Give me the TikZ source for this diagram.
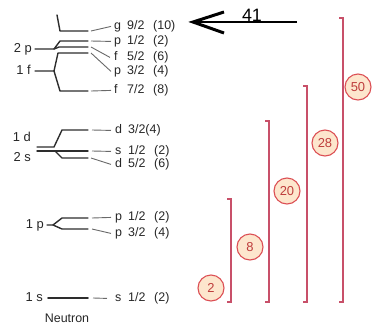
\documentclass[tikz,border=0pt]{standalone}
\usepackage{fontspec}
\setmainfont{Liberation Sans}
\definecolor{bracketred}{RGB}{200,80,105}
\definecolor{ringred}{RGB}{220,80,85}
\definecolor{ringfill}{RGB}{253,230,205}
\definecolor{numred}{RGB}{190,60,60}
\definecolor{levelgray}{RGB}{45,45,45}
\definecolor{tiegray}{RGB}{105,105,105}
% orbital label: letter, j value, occupancy in fixed columns
\newcommand{\orb}[3]{\makebox[13bp][l]{#1}\makebox[26bp][l]{#2}#3}
\begin{document}
\begin{tikzpicture}[x=1bp,y=-1bp,
  levelline/.style={draw=levelgray, line width=1.4bp, line join=round, line cap=round},
  tie/.style={draw=tiegray, line width=0.9bp},
  orblabel/.style={anchor=mid west, inner sep=0, text=black!85, font=\fontsize{12.5}{15}\selectfont},
  shell/.style={anchor=mid east, inner sep=0, text=black!85, font=\fontsize{13}{15}\selectfont},
  magic/.style={circle, draw=ringred, fill=ringfill, line width=1.1bp, minimum size=26bp,
    inner sep=0, text=numred, font=\fontsize{13}{15}\selectfont},
  closure/.style={draw=bracketred, line width=1.3bp}]
\useasboundingbox (0,0) rectangle (376,325);

% ---- shell labels on the left ----
\node[shell] (s2p) at (32,50) {2 p};
\node[shell] (s1f) at (31,72) {1 f};
\node[shell] (s1d) at (31,139) {1 d};
\node[shell] (s2s) at (31,159) {2 s};
\node[shell] (s1p) at (44,226) {1 p};
\node[shell] (s1s) at (43,299) {1 s};

% ---- spin-orbit split levels ----
\draw[levelline] (57,15) -- (60,31) -- (88,31);
\draw[levelline] (35,49) -- (54,49) -- (60,41) -- (88,41);
\draw[levelline] (54,49) -- (59,47) -- (88,47);
\draw[levelline] (35,71) -- (54,71) -- (58,53) -- (88,53);
\draw[levelline] (54,71) -- (60,91) -- (88,91);

\draw[levelline] (37,147) -- (54,147) -- (62,130) -- (88,130);
\draw[levelline] (37,151) -- (88,151);
\draw[levelline] (55,151) -- (62,158) -- (88,158);

\draw[levelline] (47,225) -- (53,225) -- (62,218) -- (88,218);
\draw[levelline] (53,225) -- (62,229) -- (88,229);

\draw[levelline, line width=1.8bp] (48,298) -- (88,298);

% ---- orbital labels ----
\node[orblabel] (g92) at (114,27) {\orb{g}{9/2}{(10)}};
\node[orblabel] (p12a) at (114,42) {\orb{p}{1/2}{(2)}};
\node[orblabel] (f52) at (114,58) {\orb{f}{5/2}{(6)}};
\node[orblabel] (p32a) at (114,72) {\orb{p}{3/2}{(4)}};
\node[orblabel] (f72) at (114,91) {\orb{f}{7/2}{(8)}};
\node[orblabel] (d32) at (115,131) {\makebox[13bp][l]{d}3/2(4)};
\node[orblabel] (s12a) at (115,152) {\orb{s}{1/2}{(2)}};
\node[orblabel] (d52) at (115,165) {\orb{d}{5/2}{(6)}};
\node[orblabel] (p12b) at (115,218) {\orb{p}{1/2}{(2)}};
\node[orblabel] (p32b) at (115,234) {\orb{p}{3/2}{(4)}};
\node[orblabel] (s12b) at (115,299) {\orb{s}{1/2}{(2)}};

% ---- ties from level ends to labels ----
\draw[tie] (91,31) -- ([xshift=-3bp]g92.west);
\draw[tie] (91,41) -- ([xshift=-3bp]p12a.west);
\draw[tie] (91,47) -- ([xshift=-4bp]f52.west);
\draw[tie] (91,53) -- ([xshift=-3bp]p32a.west);
\draw[tie] (91,91) -- ([xshift=-3bp]f72.west);
\draw[tie] (92,130) -- ([xshift=-4bp]d32.west);
\draw[tie] (92,151) -- ([xshift=-4bp]s12a.west);
\draw[tie] (91,158) -- ([xshift=-4bp]d52.west);
\draw[tie] (92,218) -- ([xshift=-4bp]p12b.west);
\draw[tie] (92,229) -- ([xshift=-4bp]p32b.west);
\draw[tie] (93,298) -- ([xshift=-8bp]s12b.west);

\node[anchor=mid, inner sep=0, text=black!85, font=\fontsize{12.5}{15}\selectfont] (neutron) at (67,320) {Neutron};

% ---- shell closures ----
\draw[closure] (227,199) -- (231,199) -- (231,302) -- (227,302);
\draw[closure] (265,121) -- (269,121) -- (269,302) -- (265,302);
\draw[closure] (303,86) -- (307,86) -- (307,302) -- (303,302);
\draw[closure] (339,18) -- (343,18) -- (343,302) -- (339,302);

\node[magic] (m2) at (211,288) {2};
\node[magic] (m8) at (250,247) {8};
\node[magic] (m20) at (287,191) {20};
\node[magic] (m28) at (325,143) {28};
\node[magic] (m50) at (358,87) {50};

% ---- arrow marking neutron number 41 ----
\coordinate (tail) at (297,22);
\coordinate (tip) at (193,22);
\draw[line width=1.6bp] (tail) -- (tip);
\draw[line width=3bp, line join=miter] (tip) ++(31,-10) -- (tip) -- ++(31,11);
\node[inner sep=0, font=\fontsize{18}{20}\selectfont] (n41) at (252,15) {41};
\end{tikzpicture}
\end{document}
